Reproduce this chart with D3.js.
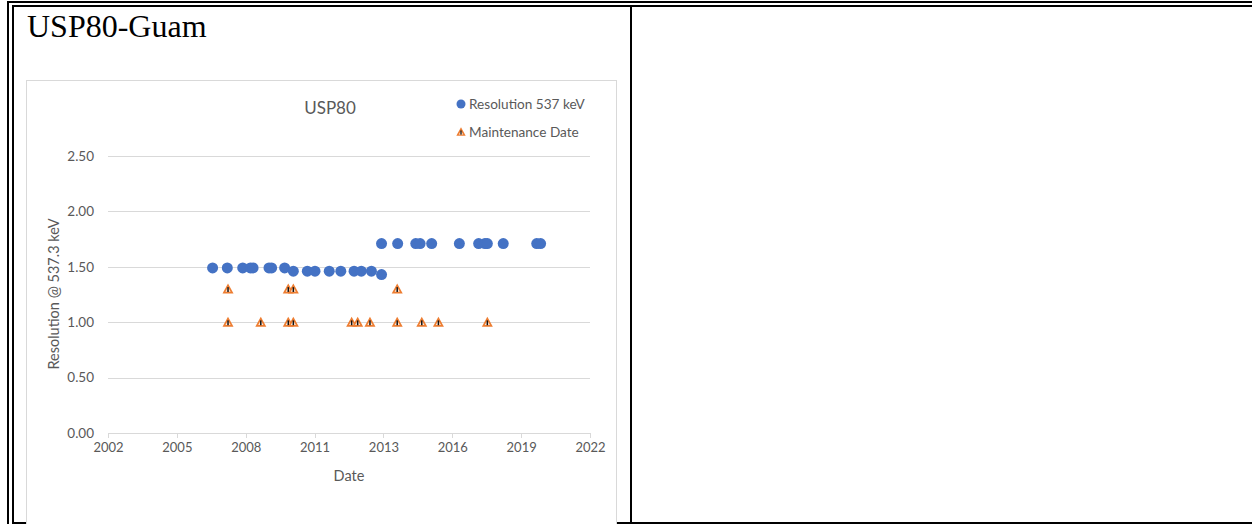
<!DOCTYPE html>
<html>
<head>
<meta charset="utf-8">
<script src="https://cdn.jsdelivr.net/npm/d3@7/dist/d3.min.js"></script>
<style>
  html, body { margin: 0; padding: 0; background: #fff; }
  svg { display: block; }
</style>
</head>
<body>
<svg id="page" width="1252" height="524"></svg>
<script>
// Resolution measurements (decimal year, resolution)
const resolutionYears = [2006.34, 2006.95, 2007.59, 2007.91, 2008.02, 2008.68, 2008.79, 2009.33,
  2009.69, 2010.27, 2010.59, 2011.18, 2011.66, 2012.21, 2012.51, 2012.93, 2013.35,
  2013.35, 2014.02, 2014.77, 2014.95, 2015.43, 2016.58, 2017.38, 2017.64, 2017.74,
  2018.40, 2019.79, 2019.95];
const resolutionValues = [1.49, 1.49, 1.49, 1.49, 1.49, 1.49, 1.49, 1.49,
  1.46, 1.46, 1.46, 1.46, 1.46, 1.46, 1.46, 1.46, 1.43,
  1.71, 1.71, 1.71, 1.71, 1.71, 1.71, 1.71, 1.71, 1.71,
  1.71, 1.71, 1.71];

// Maintenance events (decimal year, marker level)
const maintenanceYears = [2006.98, 2009.48, 2009.69, 2014.00,
  2006.98, 2008.34, 2009.48, 2009.69, 2012.11, 2012.36, 2012.87, 2014.00, 2015.02, 2015.71, 2017.74];
const maintenanceValues = [1.3, 1.3, 1.3, 1.3,
  1, 1, 1, 1, 1, 1, 1, 1, 1, 1, 1];

const xDomain = [2002, 2022];
const xTickLabels = ["2002", "2005", "2008", "2011", "2013", "2016", "2019", "2022"];
const yTicks = [0, 0.5, 1, 1.5, 2, 2.5];

const svg = d3.select("#page");
const FONT = "Lato, 'Noto Sans', sans-serif";
const GREY_TEXT = "#595959";
const GRID = "#d9d9d9";

// Page background and table borders
svg.append("rect").attr("width", 1252).attr("height", 524).attr("fill", "#fff");
const borders = [
  [7, 1, 1245, 2], [7, 1, 2, 523],
  [12, 5, 1240, 2], [12, 5, 2, 519],
  [630, 5, 2, 519], [12, 522, 1240, 2]
];
svg.append("g").selectAll("rect").data(borders).join("rect")
  .attr("x", d => d[0]).attr("y", d => d[1])
  .attr("width", d => d[2]).attr("height", d => d[3])
  .attr("fill", "#000");

// Cell heading
svg.append("text").attr("x", 27).attr("y", 37)
  .attr("font-family", "'Liberation Serif', 'Times New Roman', serif")
  .attr("font-size", 32).attr("fill", "#000").text("USP80-Guam");

// Chart area
svg.append("rect").attr("x", 26.5).attr("y", 80.5).attr("width", 590).attr("height", 470)
  .attr("fill", "#fff").attr("stroke", GRID).attr("stroke-width", 1);

const x = d3.scaleLinear().domain(xDomain).range([108, 590]);
const y = d3.scaleLinear().domain([0, 2.5]).range([433, 156]);

// Horizontal gridlines and value labels
const yAxis = d3.axisLeft(y).tickValues(yTicks).tickFormat(d3.format(".2f"))
  .tickSize(-(590 - 108)).tickPadding(14);
const gy = svg.append("g").attr("transform", "translate(108,0)").call(yAxis);
gy.select(".domain").remove();
gy.selectAll(".tick line").attr("stroke", GRID).attr("shape-rendering", "crispEdges");
gy.selectAll(".tick text").attr("font-family", FONT).attr("font-size", 13.5).attr("fill", GREY_TEXT);

// Date axis
const xTickValues = d3.range(xTickLabels.length).map(i => xDomain[0] + i * (xDomain[1] - xDomain[0]) / (xTickLabels.length - 1));
const xAxis = d3.axisBottom(x).tickValues(xTickValues)
  .tickFormat((d, i) => xTickLabels[i]).tickSize(5).tickSizeOuter(0).tickPadding(5);
const gx = svg.append("g").attr("transform", "translate(0,433)").call(xAxis);
gx.select(".domain").attr("stroke", GRID).attr("shape-rendering", "crispEdges");
gx.selectAll(".tick line").attr("stroke", GRID).attr("shape-rendering", "crispEdges");
gx.selectAll(".tick text").attr("font-family", FONT).attr("font-size", 13).attr("fill", GREY_TEXT);

// Titles
svg.append("text").attr("x", 330).attr("y", 114).attr("text-anchor", "middle")
  .attr("font-family", FONT).attr("font-size", 17).attr("fill", GREY_TEXT).text("USP80");
svg.append("text").attr("x", 349).attr("y", 481).attr("text-anchor", "middle")
  .attr("font-family", FONT).attr("font-size", 14.5).attr("fill", GREY_TEXT).text("Date");
svg.append("text").attr("transform", "translate(59,294) rotate(-90)").attr("text-anchor", "middle")
  .attr("font-family", FONT).attr("font-size", 14.5).attr("fill", GREY_TEXT).text("Resolution @ 537.3 keV");

// Maintenance marker: orange triangle with a dark bar
function warnMarker(g, s) {
  g.append("path").attr("d", `M0,${-5.5 * s}L${5.5 * s},${4.5 * s}L${-5.5 * s},${4.5 * s}Z`).attr("fill", "#ED7D31");
  g.append("path").attr("d", `M0,${-1.6 * s}L${2.6 * s},${2.8 * s}L${-2.6 * s},${2.8 * s}Z`).attr("fill", "#fdeadb");
  g.append("rect").attr("x", -0.75 * s).attr("y", -1.8 * s).attr("width", 1.5 * s).attr("height", 4.8 * s).attr("fill", "#111");
}

const maint = maintenanceYears.map((d, i) => ({ t: d, v: maintenanceValues[i] }));
svg.append("g").selectAll("g").data(maint).join("g")
  .attr("transform", d => `translate(${x(d.t)},${y(d.v)})`)
  .each(function () { warnMarker(d3.select(this), 1); });

const res = resolutionYears.map((d, i) => ({ t: d, v: resolutionValues[i] }));
svg.append("g").selectAll("circle").data(res).join("circle")
  .attr("cx", d => x(d.t)).attr("cy", d => y(d.v)).attr("r", 5.5)
  .attr("fill", "#4472C4");

// Legend
const lg = svg.append("g");
lg.append("circle").attr("cx", 461).attr("cy", 104).attr("r", 4.5).attr("fill", "#4472C4");
lg.append("text").attr("x", 469).attr("y", 109).attr("font-family", FONT).attr("font-size", 13.6)
  .attr("fill", GREY_TEXT).text("Resolution 537 keV");
warnMarker(lg.append("g").attr("transform", "translate(461,132)"), 0.85);
lg.append("text").attr("x", 469).attr("y", 137).attr("font-family", FONT).attr("font-size", 13.6)
  .attr("fill", GREY_TEXT).text("Maintenance Date");
</script>
</body>
</html>
